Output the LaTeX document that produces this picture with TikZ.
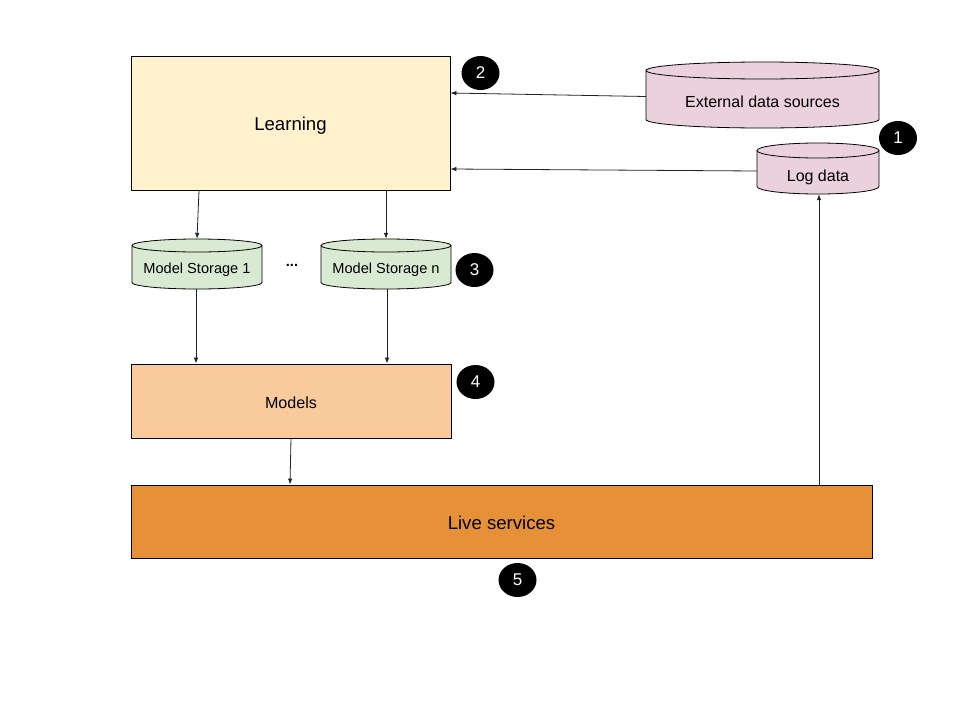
\documentclass[tikz,border=0pt]{standalone}
\usepackage{fontspec}
\setmainfont{Liberation Sans}
\usetikzlibrary{arrows.meta,shapes.geometric}
\definecolor{learnfill}{HTML}{FFF2CC}
\definecolor{pinkfill}{HTML}{EAD1DC}
\definecolor{greenfill}{HTML}{D9EAD3}
\definecolor{modelfill}{HTML}{F9CB9C}
\definecolor{livefill}{HTML}{E69138}
\definecolor{arrowgray}{HTML}{222222}
\newcommand\lowertext[2]{\raisebox{-#1}[\height][\depth]{#2}}
% #1 name, #2 xl, #3 yt, #4 xr, #5 yb, #6 ry, #7 fill
\newcommand\dbcylinder[7]{%
  \pgfmathsetmacro\cylrx{(#4-#2)/2}%
  \filldraw[fill=#7,draw=black,line width=0.8pt]
    (#2,#3+#6) -- (#2,#5-#6)
    arc[start angle=180,end angle=360,x radius=\cylrx pt,y radius=#6 pt]
    -- (#4,#3+#6)
    arc[start angle=0,end angle=180,x radius=\cylrx pt,y radius=#6 pt] -- cycle;
  \draw[line width=0.8pt] (#2,#3+#6)
    arc[start angle=180,end angle=360,x radius=\cylrx pt,y radius=#6 pt];
  \node[draw=none,inner sep=0pt,minimum width={(#4-#2)*1pt},minimum height={(#5-#3)*1pt}]
    (#1) at ({(#2+#4)/2},{(#3+#5)/2}) {};
}
\begin{document}
\begin{tikzpicture}[x=1pt,y=-1pt,
  box/.style={draw=black,line width=0.8pt,inner sep=0pt},
  badge/.style={ellipse,fill=black,text=white,minimum width=38pt,minimum height=34pt,inner sep=0pt,font=\fontsize{17}{20}\selectfont},
  arr/.style={draw=arrowgray,line width=0.8pt,-{Latex[length=6pt,width=4.5pt]}},
  lbl/.style={inner sep=0pt}
]
\useasboundingbox (0,0) rectangle (960,720);

% Boxes
\node[box,fill=learnfill,minimum width=319pt,minimum height=134pt,font=\fontsize{18.6}{20}\selectfont]
  (learn) at (290.5,123) {\lowertext{3pt}{Learning}};
\node[box,fill=modelfill,minimum width=320pt,minimum height=74pt,font=\fontsize{16.1}{18}\selectfont]
  (models) at (291,401) {\lowertext{2pt}{Models}};
\node[box,fill=livefill,minimum width=741pt,minimum height=73pt,font=\fontsize{18.6}{20}\selectfont]
  (live) at (501.5,521.5) {\lowertext{1.5pt}{Live services}};

% Cylinders
\dbcylinder{ext}{646}{62}{879}{128}{8.5}{pinkfill}
\node[lbl,font=\fontsize{16}{18}\selectfont] (extt) at (762.5,102) {External data sources};
\dbcylinder{log}{757}{143}{879}{194}{7.5}{pinkfill}
\node[lbl,font=\fontsize{16}{18}\selectfont] (logt) at (818,177.5) {Log data};
\dbcylinder{ms1}{132}{239}{262}{289}{6.5}{greenfill}
\node[lbl,font=\fontsize{14.6}{17}\selectfont] (ms1t) at (197,269.5) {Model Storage 1};
\dbcylinder{msn}{321}{239}{451}{289}{6.5}{greenfill}
\node[lbl,font=\fontsize{14.6}{17}\selectfont] (msnt) at (386,269.5) {Model Storage n};
\node[lbl,font=\fontsize{14.5}{17}\selectfont\bfseries] (dots) at (292,265) {...};

% Badges
\node[badge] (b1) at (898,138) {1};
\node[badge] (b2) at (480.5,73) {2};
\node[badge] (b3) at (474.5,270) {3};
\node[badge] (b4) at (475.5,382) {4};
\node[badge] (b5) at (517.5,580) {5};

% Connectors
\draw[arr] ([yshift=-1.5pt]ext.west) -- ([yshift=30pt]learn.east);
\draw[arr] ([yshift=-2.5pt]log.west) -- ([yshift=-46pt]learn.east);
\draw[arr] ([xshift=-91.5pt]learn.south) -- (ms1.north);
\draw[arr] ([xshift=95.5pt]learn.south) -- (msn.north);
\draw[arr] ([xshift=-1pt]ms1.south) -- ([xshift=-95pt]models.north);
\draw[arr] ([xshift=1pt]msn.south) -- ([xshift=96pt]models.north);
\draw[arr] (models.south) -- ([xshift=-211.5pt]live.north);
\draw[arr] ([xshift=317.5pt]live.north) -- ([xshift=1pt]log.south);
\end{tikzpicture}
\end{document}
